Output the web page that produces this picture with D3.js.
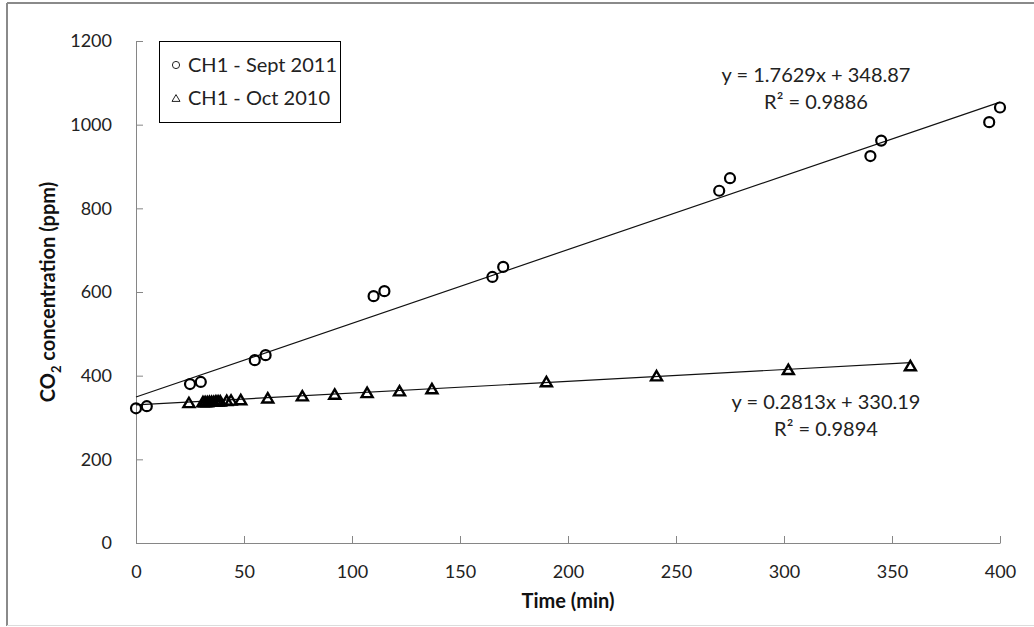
<!DOCTYPE html>
<html>
<head>
<meta charset="utf-8">
<script src="https://cdn.jsdelivr.net/npm/d3@7"></script>
<style>
  body { margin: 0; background: #fff; }
  svg { display: block; font-family: Lato, "Open Sans", sans-serif; }
</style>
</head>
<body>
<div id="chart"></div>
<script>
// CH1 - Sept 2011 (circles)
var septTime = [0, 5, 25, 30, 55, 60, 110, 115, 165, 170, 270, 275, 340, 345, 395, 400];
var septCO2 = [322, 327, 380, 385, 437, 449, 590, 602, 636, 660, 842, 872, 925, 962, 1006, 1041];

// CH1 - Oct 2010 (triangles)
var octTime = [24.5, 31, 32, 33, 34, 35, 36, 37, 38, 39, 42, 44, 48.5, 61, 77, 92, 107, 122, 137, 190, 241, 302, 358.5];
var octCO2 = [336, 338, 338, 338, 339, 339, 339, 340, 340, 340, 341, 342, 343, 347, 352, 356, 360, 364, 369, 386, 400, 415, 424];

// fitted trend lines as printed on the chart
var septFit = { slope: 1.7629, intercept: 348.87, r2: "0.9886" };
var octFit = { slope: 0.2813, intercept: 330.19, r2: "0.9894" };

var xTicks = [0, 50, 100, 150, 200, 250, 300, 350, 400];
var yTicks = [0, 200, 400, 600, 800, 1000, 1200];

var W = 1034, H = 627;

var svg = d3.select("#chart")
  .append("svg")
  .attr("width", W)
  .attr("height", H);

// outer chart frame
svg.append("line").attr("x1", 7).attr("x2", W).attr("y1", 3).attr("y2", 3)
  .attr("stroke", "#8a8a8a").attr("stroke-width", 2);
svg.append("line").attr("x1", 7).attr("x2", 7).attr("y1", 3).attr("y2", 626)
  .attr("stroke", "#8a8a8a").attr("stroke-width", 2);
svg.append("line").attr("x1", 7).attr("x2", W).attr("y1", 625.5).attr("y2", 625.5)
  .attr("stroke", "#dcdcdc").attr("stroke-width", 1);

var x = d3.scaleLinear().domain([0, 400]).range([136, 1000]);
var y = d3.scaleLinear().domain([0, 1200]).range([543, 41]);

// X axis
var xAxis = svg.append("g")
  .attr("transform", "translate(0," + y(0) + ")")
  .call(d3.axisBottom(x).tickValues(xTicks).tickFormat(d3.format("d"))
    .tickSizeInner(-7).tickSizeOuter(0).tickPadding(22));
// Y axis
var yAxis = svg.append("g")
  .attr("transform", "translate(" + x(0) + ",0)")
  .call(d3.axisLeft(y).tickValues(yTicks).tickFormat(d3.format("d"))
    .tickSizeInner(-7).tickSizeOuter(0).tickPadding(24));

[xAxis, yAxis].forEach(function (g) {
  g.select(".domain").attr("stroke", "#868686");
  g.selectAll(".tick line").attr("stroke", "#868686");
  g.selectAll(".tick text")
    .attr("fill", "#222")
    .style("font-family", "Lato, 'Open Sans', sans-serif")
    .style("font-size", "18px");
});

// axis titles
svg.append("text")
  .attr("x", 568)
  .attr("y", 608)
  .attr("text-anchor", "middle")
  .style("font-size", "20px")
  .style("font-weight", "bold")
  .attr("fill", "#111")
  .text("Time (min)");

var yTitle = svg.append("text")
  .attr("transform", "translate(55,292) rotate(-90)")
  .attr("text-anchor", "middle")
  .style("font-size", "20px")
  .style("font-weight", "bold")
  .attr("fill", "#111");
yTitle.append("tspan").text("CO");
yTitle.append("tspan").attr("dy", 6).style("font-size", "13px").text("2");
yTitle.append("tspan").attr("dy", -6).text(" concentration (ppm)");

// trend lines
function fitLine(fit, t0, t1) {
  svg.append("line")
    .attr("x1", x(t0)).attr("y1", y(fit.slope * t0 + fit.intercept))
    .attr("x2", x(t1)).attr("y2", y(fit.slope * t1 + fit.intercept))
    .attr("stroke", "#111")
    .attr("stroke-width", 1.2);
}
fitLine(septFit, 0, d3.max(septTime));
fitLine(octFit, 0, d3.max(octTime));

// triangle markers
var tri = function (s) {
  var h = s * 0.85;
  return "M0," + (-h / 2) + "L" + (s / 2) + "," + (h / 2) + "L" + (-s / 2) + "," + (h / 2) + "Z";
};

svg.append("g").selectAll("path")
  .data(d3.range(octTime.length))
  .enter().append("path")
  .attr("d", tri(11))
  .attr("transform", function (i) { return "translate(" + x(octTime[i]) + "," + y(octCO2[i]) + ")"; })
  .attr("fill", "none")
  .attr("stroke", "#000")
  .attr("stroke-width", 2.4);

// circle markers
svg.append("g").selectAll("circle")
  .data(d3.range(septTime.length))
  .enter().append("circle")
  .attr("cx", function (i) { return x(septTime[i]); })
  .attr("cy", function (i) { return y(septCO2[i]); })
  .attr("r", 5)
  .attr("fill", "none")
  .attr("stroke", "#000")
  .attr("stroke-width", 2.2);

// equation labels
function eqLabel(fit, cx, cy) {
  var g = svg.append("g").attr("fill", "#222").style("font-size", "20px");
  g.append("text").attr("x", cx).attr("y", cy).attr("text-anchor", "middle")
    .text("y = " + fit.slope + "x + " + fit.intercept.toFixed(2));
  g.append("text").attr("x", cx).attr("y", cy + 27).attr("text-anchor", "middle")
    .text("R\u00b2 = " + fit.r2);
}
eqLabel(septFit, 816, 82);
eqLabel(octFit, 826, 409);

// legend
var legend = svg.append("g");
legend.append("rect")
  .attr("x", 159.5).attr("y", 41.5)
  .attr("width", 181).attr("height", 81)
  .attr("fill", "#fff")
  .attr("stroke", "#000");
legend.append("circle")
  .attr("cx", 176).attr("cy", 65).attr("r", 3.6)
  .attr("fill", "none").attr("stroke", "#222").attr("stroke-width", 1);
legend.append("path")
  .attr("d", tri(8))
  .attr("transform", "translate(176,98)")
  .attr("fill", "none").attr("stroke", "#222").attr("stroke-width", 1);
legend.append("text").attr("x", 188).attr("y", 72)
  .style("font-size", "20px").attr("fill", "#222").text("CH1 - Sept 2011");
legend.append("text").attr("x", 188).attr("y", 105)
  .style("font-size", "20px").attr("fill", "#222").text("CH1 - Oct 2010");
</script>
</body>
</html>
